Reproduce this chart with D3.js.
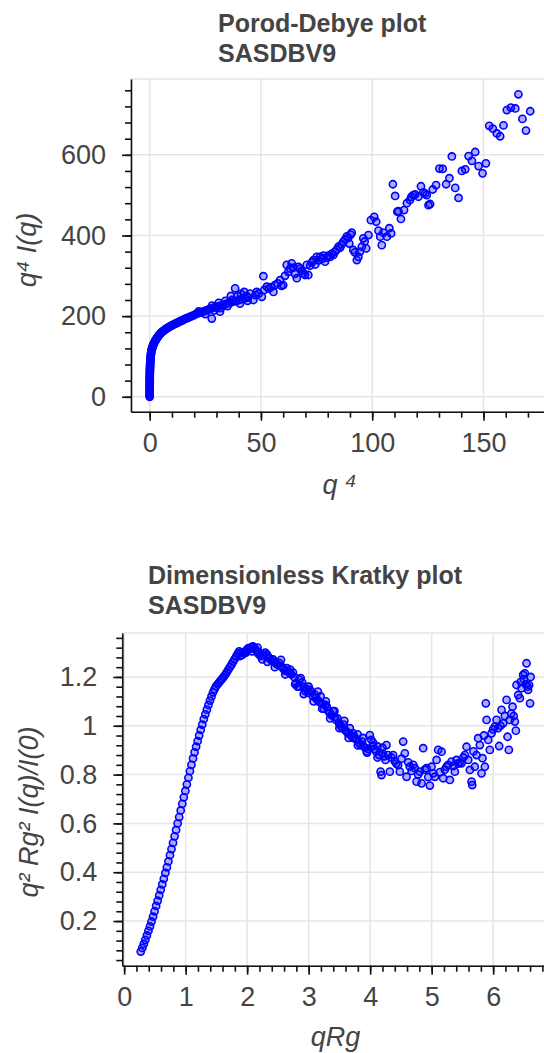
<!DOCTYPE html>
<html><head><meta charset="utf-8">
<script src="https://cdn.jsdelivr.net/npm/d3@7"></script>
<style>
body{margin:0;background:#fff;}
svg{display:block;font-family:"Liberation Sans",Arial,Helvetica,sans-serif;}
</style></head>
<body>
<svg id="chart" width="544" height="1053"></svg>
<script>
// ---------- Porod-Debye data (x = q^4, y = q^4 I(q)) ----------
const pdX = [0.000,0.000,0.000,0.001,0.001,0.002,0.003,0.004,0.006,0.008,0.010,0.013,0.017,0.021,0.026,0.032,0.039,0.047,0.056,0.066,0.078,0.091,0.106,0.122,0.140,0.16,0.18,0.21,0.24,0.27,0.30,0.34,0.39,0.44,0.49,0.55,0.62,0.69,0.77,0.86,0.96,1.07,1.18,1.30,1.43,1.57,1.72,1.88,2.05,2.23,2.42,2.62,2.84,3.06,3.30,3.55,3.81,4.08,4.37,4.67,4.98,5.31,5.65,6.00,6.37,6.76,7.16,7.58,8.01,8.46,8.93,9.41,9.91,10.43,10.97,11.52,12.09,12.68,13.29,13.92,14.57,15.24,15.92,16.63,17.36,18.10,18.87,19.66,20.47,21.30,22.15,23.02,23.92,24.84,25.78,26.74,27.73,28.74,29.77,30.83,31.91,33.02,34.15,35.31,36.49,37.70,38.93,40.19,41.48,42.79,44.13,
  22,25,28,29,31,32,34,35,36.5,37,38.4,39.5,40.6,41,42.5,43.5,44,27.9,31.6,
  45.1,46.6,47.5,48.1,49,50.4,51.1,51.5,52.6,53.5,54.5,55.6,56.3,57.5,58.6,59.2,60,60.8,61.6,62.3,63.1,63.8,64.5,65.3,66.1,66.8,67.6,68.3,69.1,69.8,70.6,71.3,72.1,72.8,73.6,74.4,75.1,75.9,76.6,77.4,78.1,78.8,79.6,80.3,81.1,81.9,82.6,83.3,84.1,84.8,85.6,86.3,87,87.8,88.6,89.2,89.7,90.3,90.8,91.5,92.2,93.1,93.8,94.5,95.3,96,96.6,97.3,98.3,99.4,100.9,101.8,102.8,103.6,104.3,105,106.6,107.7,108.5,109.3,110.3,111.3,111.8,112.9,114.3,115.6,117,117.6,118.5,119.3,120.8,121.9,123,123.8,124.5,125.3,126,127.2,128.7,130.2,131.7,133.2,134.7,135.8,137.3,138.8,140.3,141.8,143.3,144.8,146.3,147.8,149.6,151.1,152.6,154.2,156,157.5,159,160.5,162.3,164.3,165.7,167.5,169.1,171];
const pdY = [0,3,6,9,12,15,18,21,24,27,30,33,36,39,42,45,48,51,54,57,60,63,66,69,72,75,78,81,84,87,90,93,96,99,102,105,108,111,114,116,118,120,122,124,126,128,130,132,134,136,138,140,142,144,146,148,150,152,154,156,158,160,161,163,164,166,168,169,171,172,174,175,177,178,180,181,183,184,186,188,189,191,193,195,196,198,200,202,204,206,208,209,211,213,215,217,219,221,223,224,226,228,230,232,234,236,238,240,242,244,246,
  212,205,226,214,233,220,238,225,250,240,269,250,231,255,260,250,238,194,211,
  256,240,252,260,256,248,299,265,273,268,272,260,277,281,289,275,277,300,327,310,318,331,320,305,294,322,318,312,306,302,327,302,325,333,339,328,347,338,347,342,350,335,345,350,347,355,352,360,365,372,370,378,384,390,398,394,380,402,407,364,358,339,347,360,372,393,385,368,401,438,446,434,412,397,376,407,397,418,405,527,498,459,460,441,463,480,488,496,500,502,496,522,507,504,500,475,478,514,525,566,565,527,542,596,518,493,560,564,597,585,607,572,554,579,672,665,653,646,673,711,717,715,750,689,660,708];
const pdXTicks = [0,50,100,150];
const pdYTicks = [0,200,400,600];
const pdXMinor = [0,10,20,30,40,50,60,70,80,90,100,110,120,130,140,150,160,170];
const pdYMinor = [0,40,80,120,160,200,240,280,320,360,400,440,480,520,560,600,640,680,720,760];

// ---------- Dimensionless Kratky data (x = qRg, y = q^2 Rg^2 I(q)/I(0)) ----------
const krX = [0.270,0.295,0.320,0.345,0.370,0.395,0.420,0.445,0.470,0.495,0.520,0.545,0.570,0.595,0.620,0.645,0.670,0.695,0.720,0.745,0.770,0.795,0.820,0.845,0.870,0.895,0.920,0.945,0.970,0.995,1.020,1.045,1.070,1.095,1.120,1.145,1.170,1.195,1.220,1.245,1.270,1.295,1.320,1.345,1.370,1.395,1.420,1.445,1.470,1.495,1.520,1.545,1.570,1.595,1.620,1.645,1.670,1.695,1.720,1.745,1.770,1.795,1.820,1.845,1.870,1.895,1.920,1.945,1.970,1.995,2.020,2.045,2.070,2.095,2.120,2.145,2.170,2.195,2.220,2.245,2.270,2.295,2.320,2.345,2.370,2.395,2.420,2.445,2.470,2.495,2.520,2.545,2.570,2.595,2.620,2.645,2.670,2.695,2.720,2.745,2.770,2.795,2.820,2.845,2.870,2.895,2.920,2.945,2.970,2.995,3.020,3.045,3.070,3.095,3.120,3.145,3.170,3.195,3.220,3.245,3.270,3.295,3.320,3.345,3.370,3.395,3.420,3.445,3.470,3.495,3.520,3.545,3.570,3.595,3.620,3.645,3.670,3.695,3.720,3.745,3.770,3.795,3.820,3.845,3.870,3.895,3.920,3.945,3.970,3.995,4.020,4.045,4.070,4.095,4.120,4.145,4.170,4.185,4.200,4.225,4.250,4.266,4.290,4.320,4.345,4.374,4.400,4.425,4.455,4.483,4.510,4.537,4.564,4.592,4.620,4.645,4.675,4.700,4.727,4.754,4.780,4.808,4.836,4.862,4.890,4.917,4.945,4.971,4.998,5.025,5.052,5.080,5.106,5.135,5.161,5.187,5.215,5.242,5.270,5.296,5.323,5.350,5.377,5.405,5.430,5.460,5.486,5.515,5.540,5.567,5.595,5.621,5.649,5.660,5.680,5.702,5.730,5.756,5.784,5.811,5.827,5.850,5.865,5.881,5.893,5.919,5.946,5.974,6.000,6.028,6.055,6.080,6.098,6.120,6.137,6.163,6.190,6.218,6.234,6.255,6.271,6.295,6.315,6.335,6.353,6.369,6.380,6.407,6.434,6.450,6.462,6.488,6.500,6.515,6.530,6.543,6.560,6.569,6.585,6.600,6.610,
  2.25,2.33,2.45,2.55,2.62,2.70,2.78,2.85,2.92,3.00,3.08,3.15,3.22,3.28,3.35,3.42,3.50,3.58,3.65,3.72,3.80,3.88,3.95,4.05,4.12,4.20,1.88,1.98,2.08,2.18];
const krY = [0.075,0.090,0.106,0.123,0.141,0.160,0.178,0.198,0.218,0.240,0.262,0.283,0.305,0.328,0.350,0.373,0.397,0.420,0.444,0.470,0.495,0.520,0.547,0.573,0.600,0.626,0.653,0.680,0.707,0.733,0.760,0.787,0.814,0.840,0.866,0.891,0.914,0.937,0.960,0.983,1.005,1.027,1.047,1.066,1.085,1.103,1.120,1.137,1.150,1.162,1.170,1.178,1.186,1.193,1.201,1.210,1.220,1.230,1.240,1.250,1.262,1.272,1.283,1.295,1.305,1.300,1.290,1.298,1.305,1.312,1.318,1.315,1.322,1.325,1.318,1.310,1.320,1.300,1.285,1.272,1.290,1.300,1.292,1.282,1.275,1.268,1.272,1.262,1.255,1.250,1.258,1.244,1.240,1.232,1.225,1.236,1.222,1.215,1.210,1.218,1.198,1.175,1.160,1.190,1.195,1.178,1.160,1.142,1.150,1.135,1.147,1.140,1.120,1.128,1.113,1.105,1.098,1.120,1.090,1.070,1.085,1.078,1.060,1.052,1.044,1.060,1.035,1.024,1.030,1.010,1.000,0.990,1.005,0.982,0.975,0.968,0.990,0.960,0.950,0.955,0.945,0.965,0.930,0.921,0.935,0.915,0.910,0.895,0.905,0.962,0.942,0.918,0.905,0.895,0.915,0.880,0.812,0.798,0.887,0.875,0.860,0.921,0.880,0.812,0.870,0.880,0.855,0.845,0.839,0.812,0.865,0.935,0.887,0.791,0.850,0.832,0.815,0.840,0.826,0.771,0.800,0.812,0.764,0.908,0.820,0.826,0.790,0.755,0.832,0.805,0.791,0.860,0.901,0.810,0.894,0.785,0.820,0.832,0.840,0.778,0.853,0.835,0.812,0.860,0.845,0.850,0.846,0.870,0.880,0.914,0.860,0.819,0.771,0.757,0.895,0.832,0.880,0.949,0.921,0.805,0.867,0.960,0.832,1.092,1.024,0.942,0.901,0.969,0.985,0.996,1.024,0.990,0.917,1.000,1.065,1.010,1.040,1.106,0.955,0.901,1.024,1.050,1.078,1.040,1.017,0.980,1.167,1.126,1.113,1.180,1.154,1.208,1.190,1.215,1.170,1.256,1.160,1.147,1.167,1.092,1.200,
  1.290,1.262,1.240,1.270,1.210,1.230,1.170,1.160,1.130,1.160,1.100,1.140,1.070,1.100,1.030,1.060,0.990,1.020,0.950,0.970,0.920,0.950,0.890,0.930,0.870,0.910,1.285,1.300,1.305,1.295];
const krXTicks = [0,1,2,3,4,5,6];
const krYTicks = [0.2,0.4,0.6,0.8,1,1.2];
const krXMinor = [0,0.2,0.4,0.6,0.8,1,1.2,1.4,1.6,1.8,2,2.2,2.4,2.6,2.8,3,3.2,3.4,3.6,3.8,4,4.2,4.4,4.6,4.8,5,5.2,5.4,5.6,5.8,6,6.2,6.4,6.6,6.8];
const krYMinor = [0.04,0.08,0.12,0.16,0.2,0.24,0.28,0.32,0.36,0.4,0.44,0.48,0.52,0.56,0.6,0.64,0.68,0.72,0.76,0.8,0.84,0.88,0.92,0.96,1,1.04,1.08,1.12,1.16,1.2,1.24,1.28,1.32,1.36];

const svg = d3.select("#chart");
const TXT = "#444";

function panel(cfg){
  const g = svg.append("g");
  const x = d3.scaleLinear().domain(cfg.xDom).range([cfg.left, cfg.right]);
  const y = d3.scaleLinear().domain(cfg.yDom).range([cfg.bottom, cfg.top]);
  const id = "clip" + cfg.id;
  svg.append("clipPath").attr("id", id).append("rect")
    .attr("x", cfg.left).attr("y", cfg.top)
    .attr("width", cfg.right - cfg.left).attr("height", cfg.bottom - cfg.top);

  // grid
  g.append("g").selectAll("line").data(cfg.xTicks).join("line")
    .attr("x1", d => x(d)).attr("x2", d => x(d))
    .attr("y1", cfg.top).attr("y2", cfg.bottom)
    .attr("stroke", "#e5e5e5").attr("stroke-width", 1.5);
  g.append("g").selectAll("line").data(cfg.yTicks).join("line")
    .attr("x1", cfg.left).attr("x2", cfg.right)
    .attr("y1", d => y(d)).attr("y2", d => y(d))
    .attr("stroke", "#e5e5e5").attr("stroke-width", 1.5);
  // frame outline
  g.append("rect").attr("x", cfg.left).attr("y", cfg.top)
    .attr("width", cfg.right - cfg.left).attr("height", cfg.bottom - cfg.top)
    .attr("fill", "none").attr("stroke", "#e5e5e5").attr("stroke-width", 1.5);

  // points
  const pts = cfg.xs.map((v, i) => [v, cfg.ys[i]]);
  g.append("g").attr("clip-path", `url(#${id})`).selectAll("circle").data(pts).join("circle")
    .attr("cx", d => x(d[0])).attr("cy", d => y(d[1])).attr("r", 3.6)
    .attr("fill", "#0000ff").attr("fill-opacity", 0.32)
    .attr("stroke", "#0000ff").attr("stroke-width", 1.6);

  // axes
  const styleAxis = sel => {
    sel.selectAll("path.domain").attr("stroke", "#111").attr("stroke-width", 1.6);
    sel.selectAll(".tick line").attr("stroke", "#111").attr("stroke-width", 1.6);
    sel.selectAll(".tick text").attr("fill", TXT).attr("font-size", 27)
      .attr("font-family", '"Liberation Sans",Arial,Helvetica,sans-serif');
  };
  const fmt = d => String(d);
  g.append("g").attr("transform", `translate(0,${cfg.bottom})`)
    .call(d3.axisBottom(x).tickValues(cfg.xMinor).tickSizeInner(6).tickSizeOuter(0).tickFormat(""))
    .call(s => s.select(".domain").remove()).call(styleAxis);
  g.append("g").attr("transform", `translate(${cfg.left},0)`)
    .call(d3.axisLeft(y).tickValues(cfg.yMinor).tickSizeInner(6).tickSizeOuter(0).tickFormat(""))
    .call(s => s.select(".domain").remove()).call(styleAxis);
  g.append("g").attr("transform", `translate(0,${cfg.bottom})`)
    .call(d3.axisBottom(x).tickValues(cfg.xTicks).tickSizeInner(9).tickSizeOuter(0).tickPadding(12).tickFormat(fmt))
    .call(styleAxis);
  g.append("g").attr("transform", `translate(${cfg.left},0)`)
    .call(d3.axisLeft(y).tickValues(cfg.yTicks).tickSizeInner(9).tickSizeOuter(0).tickPadding(16).tickFormat(fmt))
    .call(styleAxis);

  // titles
  cfg.title.forEach((t, i) => {
    svg.append("text").attr("x", cfg.titleX).attr("y", cfg.titleY + i * 29.5)
      .attr("font-size", 25).attr("font-weight", "bold").attr("fill", TXT).text(t);
  });
  // axis labels
  svg.append("text").attr("x", (cfg.left + cfg.right) / 2).attr("y", cfg.xLabY)
    .attr("text-anchor", "middle").attr("font-size", 27).attr("font-style", "italic")
    .attr("fill", TXT).text(cfg.xLab);
  svg.append("text").attr("transform", `translate(${cfg.yLabX},${cfg.yLabC}) rotate(-90)`)
    .attr("text-anchor", "middle").attr("font-size", 27).attr("font-style", "italic")
    .attr("fill", TXT).text(cfg.yLab);
}

panel({id: "pd", xs: pdX, ys: pdY, xDom: [-8.4, 179], yDom: [-37, 788],
  left: 131, right: 548, top: 79, bottom: 411.7,
  xTicks: pdXTicks, yTicks: pdYTicks, xMinor: pdXMinor, yMinor: pdYMinor,
  title: ["Porod-Debye plot", "SASDBV9"], titleX: 218, titleY: 32,
  xLab: "q \u2074", xLabY: 494, yLab: "q\u2074 I(q)", yLabX: 36, yLabC: 250});

panel({id: "kr", xs: krX, ys: krY, xDom: [-0.03, 6.9], yDom: [0.017, 1.38],
  left: 122.3, right: 548.5, top: 633, bottom: 965.7,
  xTicks: krXTicks, yTicks: krYTicks, xMinor: krXMinor, yMinor: krYMinor,
  title: ["Dimensionless Kratky plot", "SASDBV9"], titleX: 148, titleY: 584.3,
  xLab: "qRg", xLabY: 1046, yLab: "q\u00b2 Rg\u00b2 I(q)/I(0)", yLabX: 38, yLabC: 812});
</script>
</body></html>
